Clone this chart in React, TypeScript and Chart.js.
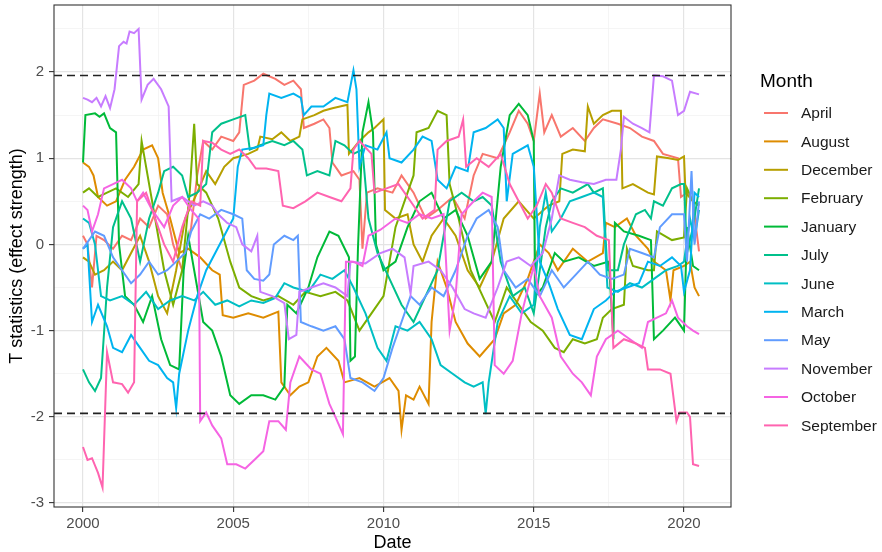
import { useEffect, useRef } from 'react';
import { Chart, registerables } from 'chart.js';

Chart.register(...registerables);

// ---------- data ----------
const monthNames = ['April', 'August', 'December', 'February', 'January', 'July', 'June', 'March', 'May', 'November', 'October', 'September'];
const monthColors = ['#F8766D', '#DE8C00', '#B79F00', '#7CAE00', '#00BA38', '#00C08B', '#00BFC4', '#00B4F0', '#619CFF', '#C77CFF', '#F564E3', '#FF64B0'];

const xMajorTicks = [2000, 2005, 2010, 2015, 2020];
const xMinorTicks = [2002.5, 2007.5, 2012.5, 2017.5];
const yMajorTicks = [-3, -2, -1, 0, 1, 2];
const yMinorTicks = [-2.5, -1.5, -0.5, 0.5, 1.5, 2.5];
const criticalValue = 1.96;
const xRange = [1999.035, 2021.564];
const yRange = [-3.046, 2.777];

const april: number[][] = [[2000.0,0.1],[2000.15,0.0],[2000.3,-0.5],[2000.45,0.1],[2000.7,0.05],[2001.0,-0.05],[2001.3,0.1],[2001.6,0.05],[2001.9,0.3],[2002.2,0.2],[2002.5,0.45],[2002.8,0.35],[2003.0,0.0],[2003.3,-0.3],[2003.6,0.2],[2003.8,0.8],[2004.0,1.2],[2004.3,1.1],[2004.6,1.25],[2005.0,1.2],[2005.2,1.3],[2005.35,1.85],[2005.7,1.9],[2006.0,1.98],[2006.4,1.92],[2006.7,1.85],[2007.0,1.9],[2007.25,1.8],[2007.35,1.35],[2007.7,1.4],[2008.0,1.45],[2008.2,1.35],[2008.3,0.95],[2008.6,0.8],[2009.0,0.85],[2009.2,0.75],[2009.3,-0.05],[2009.45,0.6],[2009.8,0.65],[2010.3,0.6],[2010.6,0.8],[2011.0,0.6],[2011.4,0.3],[2011.8,0.4],[2012.3,0.55],[2012.7,0.3],[2013.0,0.8],[2013.3,1.05],[2013.8,1.0],[2014.2,1.3],[2014.5,1.55],[2014.8,1.4],[2015.0,1.2],[2015.2,1.75],[2015.35,1.3],[2015.6,1.5],[2015.9,1.25],[2016.3,1.35],[2016.7,1.2],[2017.0,1.35],[2017.3,1.45],[2017.8,1.4],[2018.2,1.35],[2018.6,1.25],[2019.0,1.2],[2019.3,1.05],[2019.8,1.0],[2019.9,0.55],[2020.1,0.6],[2020.3,0.5],[2020.4,0.2],[2020.5,-0.08]];

const august: number[][] = [[2000.0,0.95],[2000.2,0.9],[2000.35,0.8],[2000.5,0.55],[2000.8,0.45],[2001.1,0.5],[2001.4,0.75],[2001.7,0.9],[2002.0,1.1],[2002.3,1.15],[2002.5,1.0],[2002.65,0.6],[2002.9,0.3],[2003.2,-0.1],[2003.5,-0.05],[2003.9,-0.15],[2004.3,-0.3],[2004.55,-0.35],[2004.65,-0.82],[2005.0,-0.85],[2005.5,-0.8],[2006.0,-0.85],[2006.5,-0.78],[2006.6,-1.6],[2006.9,-1.75],[2007.2,-1.65],[2007.5,-1.6],[2007.8,-1.3],[2008.1,-1.2],[2008.5,-1.35],[2008.7,-1.6],[2009.2,-1.55],[2009.7,-1.65],[2010.2,-1.55],[2010.5,-1.7],[2010.6,-2.15],[2010.75,-1.75],[2011.0,-1.8],[2011.2,-1.65],[2011.5,-1.85],[2011.6,-0.9],[2011.8,-0.2],[2012.1,-0.5],[2012.4,-0.9],[2012.8,-1.15],[2013.2,-1.3],[2013.7,-1.1],[2014.0,-0.8],[2014.4,-0.7],[2014.8,-0.4],[2015.2,0.0],[2015.5,-0.1],[2015.8,-0.3],[2016.3,-0.05],[2016.8,-0.2],[2017.3,-0.1],[2017.4,0.25],[2017.7,0.2],[2018.1,0.3],[2018.4,0.1],[2018.8,-0.05],[2019.0,-0.2],[2019.4,-0.3],[2019.55,-0.65],[2019.65,-0.3],[2020.0,-0.25],[2020.2,-0.2],[2020.35,-0.5],[2020.5,-0.6]];

const december: number[][] = [[2000.0,-0.15],[2000.2,-0.2],[2000.4,-0.35],[2000.7,-0.3],[2001.0,-0.2],[2001.3,-0.3],[2001.6,-0.1],[2001.9,0.1],[2002.2,-0.2],[2002.5,-0.6],[2002.8,-0.8],[2003.1,-0.3],[2003.4,0.3],[2003.8,0.6],[2004.1,0.85],[2004.4,0.7],[2004.7,0.9],[2005.0,1.0],[2005.5,1.05],[2005.8,1.1],[2005.9,1.25],[2006.3,1.22],[2006.6,1.3],[2006.9,1.2],[2007.2,1.25],[2007.3,1.45],[2007.7,1.5],[2008.0,1.55],[2008.3,1.58],[2008.8,1.62],[2008.85,1.05],[2009.2,1.2],[2009.5,1.3],[2009.7,1.35],[2010.0,1.45],[2010.05,0.4],[2010.4,0.3],[2010.8,0.35],[2011.0,0.0],[2011.3,-0.2],[2011.6,0.1],[2012.0,0.3],[2012.4,0.1],[2012.8,-0.3],[2013.2,-0.5],[2013.6,-0.2],[2014.0,0.3],[2014.5,0.5],[2015.0,0.3],[2015.5,0.45],[2015.85,0.5],[2015.95,1.05],[2016.3,1.1],[2016.7,1.08],[2016.8,1.6],[2017.0,1.4],[2017.3,1.5],[2017.6,1.55],[2017.9,1.55],[2017.95,0.65],[2018.3,0.7],[2018.8,0.6],[2019.0,0.58],[2019.1,1.02],[2019.5,1.0],[2019.8,0.98],[2020.0,1.02],[2020.05,0.6],[2020.3,0.5],[2020.5,0.45]];

const february: number[][] = [[2000.0,0.6],[2000.2,0.65],[2000.5,0.55],[2000.8,0.6],[2001.1,0.65],[2001.5,0.55],[2001.85,0.7],[2001.95,1.2],[2002.1,0.9],[2002.4,0.3],[2002.7,-0.3],[2003.0,-0.7],[2003.3,-0.3],[2003.55,0.6],[2003.7,1.4],[2003.8,0.7],[2004.1,0.6],[2004.5,0.3],[2004.9,-0.2],[2005.2,-0.5],[2005.6,-0.6],[2006.0,-0.65],[2006.5,-0.6],[2007.0,-0.7],[2007.4,-0.55],[2007.9,-0.6],[2008.4,-0.55],[2008.8,-0.65],[2009.2,-1.0],[2009.6,-0.8],[2010.0,-0.6],[2010.4,0.2],[2010.8,0.6],[2011.0,0.8],[2011.1,1.3],[2011.5,1.35],[2011.8,1.55],[2012.1,1.5],[2012.2,0.7],[2012.5,0.3],[2012.9,-0.3],[2013.3,-0.6],[2013.7,-0.9],[2014.1,-0.5],[2014.5,-0.7],[2014.9,-0.9],[2015.3,-1.0],[2015.7,-1.2],[2016.0,-1.25],[2016.3,-1.1],[2016.7,-1.15],[2017.1,-1.1],[2017.3,-0.85],[2017.6,-0.75],[2018.0,-0.7],[2018.1,-0.05],[2018.3,-0.25],[2018.8,-0.3],[2019.0,-0.3],[2019.1,0.15],[2019.6,0.05],[2020.0,0.08],[2020.1,0.65],[2020.3,0.5],[2020.5,0.45]];

const january: number[][] = [[2000.0,0.95],[2000.08,1.5],[2000.4,1.52],[2000.55,1.48],[2000.7,1.52],[2000.9,1.35],[2001.1,1.3],[2001.2,0.0],[2001.4,-0.6],[2001.7,-0.7],[2002.0,-0.9],[2002.3,-0.6],[2002.6,-1.1],[2002.9,-1.4],[2003.2,-1.45],[2003.35,-0.3],[2003.5,0.1],[2003.8,-0.5],[2004.0,-0.9],[2004.3,-1.0],[2004.6,-1.3],[2004.9,-1.75],[2005.2,-1.85],[2005.6,-1.75],[2006.0,-1.75],[2006.4,-1.8],[2006.7,-1.65],[2006.8,-0.7],[2007.1,-0.8],[2007.5,-0.5],[2007.8,-0.15],[2008.2,0.15],[2008.5,0.1],[2008.85,-0.15],[2008.9,-1.35],[2009.05,-1.3],[2009.15,-0.05],[2009.3,1.3],[2009.5,1.65],[2009.65,1.3],[2009.75,0.0],[2010.0,-0.3],[2010.4,-0.2],[2010.8,0.2],[2011.2,0.5],[2011.6,0.6],[2012.0,0.3],[2012.4,0.4],[2012.8,0.1],[2013.2,-0.4],[2013.6,-0.2],[2013.9,0.9],[2014.2,1.5],[2014.5,1.63],[2014.8,1.5],[2015.0,1.2],[2015.05,-0.6],[2015.3,-0.5],[2015.7,-0.1],[2016.0,-0.2],[2016.5,-0.15],[2017.0,-0.25],[2017.5,-0.2],[2017.65,-1.1],[2017.7,0.25],[2018.0,0.15],[2018.5,0.1],[2018.9,0.05],[2019.0,-1.1],[2019.3,-1.0],[2019.7,-0.85],[2020.0,-1.0],[2020.1,0.2],[2020.3,-0.25],[2020.5,-0.3]];

const july: number[][] = [[2000.0,-1.45],[2000.2,-1.6],[2000.4,-1.7],[2000.6,-1.55],[2000.8,-0.5],[2001.0,0.2],[2001.3,0.5],[2001.6,0.3],[2001.9,-0.2],[2002.2,0.3],[2002.5,0.6],[2002.7,0.85],[2003.0,0.9],[2003.3,0.8],[2003.5,0.55],[2003.8,0.6],[2004.1,0.7],[2004.3,1.3],[2004.6,1.4],[2005.0,1.45],[2005.4,1.5],[2005.55,1.1],[2005.9,1.15],[2006.3,1.2],[2006.7,1.15],[2007.0,1.2],[2007.3,1.1],[2007.45,0.8],[2007.8,0.85],[2008.2,0.8],[2008.4,1.2],[2008.7,1.15],[2009.0,1.05],[2009.3,1.1],[2009.5,0.3],[2009.8,-0.1],[2010.2,-0.4],[2010.6,-0.7],[2011.0,-0.9],[2011.4,-0.6],[2011.8,-0.3],[2012.2,0.5],[2012.6,0.6],[2013.0,0.5],[2013.3,0.55],[2013.6,0.45],[2013.9,-0.2],[2014.3,-0.6],[2014.7,-0.5],[2015.0,-0.8],[2015.4,0.2],[2015.6,0.5],[2015.9,0.65],[2016.3,0.6],[2016.8,0.7],[2017.0,0.6],[2017.3,0.65],[2017.45,-0.3],[2017.8,-0.3],[2018.0,0.0],[2018.4,0.35],[2018.7,0.4],[2018.9,0.3],[2019.0,0.5],[2019.3,0.45],[2019.6,0.65],[2019.9,0.7],[2020.0,0.7],[2020.1,-0.1],[2020.3,0.2],[2020.5,0.65]];

const june: number[][] = [[2000.0,0.3],[2000.2,0.25],[2000.4,0.0],[2000.6,-0.6],[2000.9,-0.65],[2001.3,-0.6],[2001.7,-0.7],[2002.1,-0.55],[2002.5,-0.75],[2002.9,-0.65],[2003.3,-0.6],[2003.7,-0.65],[2004.0,-0.55],[2004.4,-0.7],[2004.8,-0.65],[2005.2,-0.72],[2005.6,-0.65],[2006.0,-0.68],[2006.4,-0.62],[2006.7,-0.45],[2007.0,-0.5],[2007.5,-0.55],[2007.9,-0.35],[2008.3,-0.4],[2008.7,-0.3],[2009.0,-0.5],[2009.4,-0.8],[2009.8,-1.2],[2010.1,-1.35],[2010.4,-0.95],[2010.8,-1.0],[2011.2,-0.9],[2011.6,-1.1],[2011.9,-1.4],[2012.3,-1.5],[2012.7,-1.6],[2013.0,-1.65],[2013.3,-1.6],[2013.4,-1.97],[2013.5,-1.6],[2013.8,-0.9],[2014.2,-0.6],[2014.6,-0.8],[2015.0,-0.7],[2015.2,0.2],[2015.4,0.6],[2015.6,0.15],[2015.9,0.3],[2016.2,0.5],[2016.6,0.55],[2017.0,0.6],[2017.3,0.55],[2017.45,-0.5],[2017.8,-0.55],[2018.2,-0.45],[2018.6,-0.5],[2019.0,-0.4],[2019.4,-0.3],[2019.8,-0.25],[2020.0,-0.2],[2020.2,0.3],[2020.35,0.05],[2020.5,0.4]];

const march: number[][] = [[2000.0,-0.05],[2000.15,0.0],[2000.3,-0.9],[2000.5,-0.7],[2000.8,-0.95],[2001.0,-1.2],[2001.3,-1.25],[2001.6,-1.05],[2001.9,-1.2],[2002.2,-1.35],[2002.5,-1.4],[2002.8,-1.55],[2003.0,-1.6],[2003.1,-1.9],[2003.2,-1.5],[2003.5,-1.0],[2003.8,-0.6],[2004.1,-0.3],[2004.4,-0.1],[2004.7,0.1],[2005.0,0.3],[2005.15,0.9],[2005.3,1.1],[2005.7,1.12],[2006.0,1.15],[2006.1,1.5],[2006.2,1.75],[2006.6,1.7],[2007.0,1.75],[2007.25,1.7],[2007.35,1.5],[2007.6,1.6],[2008.0,1.6],[2008.4,1.7],[2008.8,1.65],[2009.0,2.02],[2009.1,1.8],[2009.2,0.9],[2009.4,1.15],[2009.8,1.1],[2010.1,1.3],[2010.2,1.0],[2010.6,0.95],[2011.0,1.1],[2011.3,1.25],[2011.6,1.2],[2011.8,0.75],[2012.1,0.65],[2012.4,0.9],[2012.8,0.85],[2013.0,1.3],[2013.4,1.35],[2013.8,1.45],[2014.0,1.35],[2014.1,0.5],[2014.3,1.05],[2014.8,1.15],[2015.0,0.9],[2015.2,-0.2],[2015.5,-0.45],[2015.8,-0.75],[2016.2,-1.05],[2016.6,-1.1],[2017.0,-0.75],[2017.4,-0.65],[2017.7,-0.55],[2018.1,-0.5],[2018.5,-0.45],[2018.8,-0.2],[2019.2,-0.25],[2019.6,-0.15],[2019.9,-0.25],[2020.0,-0.55],[2020.2,-0.3],[2020.35,0.6],[2020.5,0.55]];

const may: number[][] = [[2000.0,-0.05],[2000.2,0.05],[2000.4,0.15],[2000.7,0.1],[2001.0,-0.15],[2001.3,-0.3],[2001.6,-0.45],[2001.9,-0.35],[2002.2,-0.2],[2002.5,-0.35],[2002.8,-0.3],[2003.1,-0.2],[2003.4,-0.1],[2003.6,0.15],[2003.9,0.35],[2004.2,0.3],[2004.6,0.4],[2005.0,0.35],[2005.3,0.3],[2005.45,-0.3],[2005.7,-0.4],[2006.0,-0.42],[2006.2,-0.35],[2006.35,0.0],[2006.7,0.1],[2007.0,0.05],[2007.15,0.1],[2007.25,-0.9],[2007.6,-0.95],[2008.0,-1.0],[2008.4,-0.95],[2008.7,-1.1],[2008.9,-1.55],[2009.3,-1.6],[2009.7,-1.7],[2010.0,-1.55],[2010.3,-1.2],[2010.6,-0.9],[2010.9,-0.6],[2011.2,-0.7],[2011.6,-0.5],[2012.0,-0.6],[2012.4,-0.3],[2012.8,0.1],[2013.1,0.3],[2013.5,0.4],[2013.8,0.2],[2014.0,-0.3],[2014.4,-0.5],[2014.8,-0.4],[2015.2,-0.6],[2015.6,-0.3],[2016.0,-0.5],[2016.4,-0.35],[2016.8,-0.2],[2017.2,-0.35],[2017.6,-0.4],[2018.0,-0.35],[2018.2,-0.05],[2018.6,-0.1],[2019.0,-0.15],[2019.2,0.2],[2019.6,0.35],[2020.0,0.35],[2020.1,-0.2],[2020.25,0.85],[2020.35,0.0],[2020.5,0.5]];

const november: number[][] = [[2000.0,1.7],[2000.15,1.68],[2000.3,1.65],[2000.45,1.7],[2000.6,1.6],[2000.75,1.72],[2000.9,1.58],[2001.05,1.8],[2001.2,2.3],[2001.35,2.35],[2001.45,2.33],[2001.55,2.47],[2001.7,2.45],[2001.85,2.5],[2001.95,1.68],[2002.15,1.85],[2002.35,1.92],[2002.6,1.8],[2002.85,1.6],[2002.95,0.5],[2003.3,0.55],[2003.7,0.45],[2004.0,0.5],[2004.3,0.45],[2004.5,0.35],[2004.8,0.25],[2005.1,0.2],[2005.3,0.0],[2005.6,-0.08],[2005.8,0.1],[2005.9,-0.55],[2006.3,-0.6],[2006.7,-0.68],[2006.85,-1.1],[2007.1,-1.05],[2007.2,-0.55],[2007.6,-0.5],[2008.0,-0.45],[2008.4,-0.5],[2008.8,-0.6],[2008.9,-0.2],[2009.4,-0.22],[2009.9,-0.1],[2010.3,-0.05],[2010.7,-0.15],[2010.9,-0.57],[2011.0,-0.25],[2011.5,-0.2],[2011.9,-0.3],[2012.3,-0.5],[2012.7,-0.75],[2013.0,-0.8],[2013.4,-0.85],[2013.8,-0.5],[2014.1,-0.2],[2014.5,-0.15],[2014.9,-0.25],[2015.3,-0.1],[2015.6,0.3],[2015.85,0.8],[2016.2,0.75],[2016.6,0.72],[2017.0,0.7],[2017.4,0.75],[2017.75,0.75],[2017.9,1.1],[2018.0,1.48],[2018.3,1.4],[2018.6,1.35],[2018.85,1.3],[2019.0,1.96],[2019.3,1.95],[2019.6,1.9],[2019.8,1.5],[2020.0,1.55],[2020.2,1.77],[2020.5,1.74]];

const october: number[][] = [[2000.0,0.45],[2000.15,0.4],[2000.3,0.15],[2000.5,0.35],[2000.7,0.65],[2001.0,0.7],[2001.3,0.75],[2001.6,0.65],[2001.8,0.5],[2002.0,0.6],[2002.3,0.4],[2002.7,0.2],[2003.0,0.45],[2003.3,0.55],[2003.6,0.4],[2003.85,0.3],[2003.9,-2.05],[2004.1,-1.95],[2004.3,-2.1],[2004.6,-2.25],[2004.8,-2.55],[2005.1,-2.55],[2005.4,-2.6],[2005.7,-2.5],[2006.0,-2.4],[2006.2,-2.05],[2006.5,-2.05],[2006.75,-2.15],[2006.9,-1.6],[2007.2,-1.3],[2007.6,-1.45],[2007.9,-1.5],[2008.2,-1.85],[2008.4,-2.0],[2008.65,-2.2],[2008.75,-0.2],[2009.0,-0.2],[2009.3,-0.25],[2009.5,0.1],[2009.9,0.17],[2010.4,0.3],[2010.8,0.25],[2011.2,0.35],[2011.6,0.3],[2012.0,0.35],[2012.2,-1.0],[2012.4,-0.6],[2012.6,0.35],[2013.0,0.5],[2013.3,0.6],[2013.6,0.55],[2013.7,-1.4],[2014.0,-1.5],[2014.3,-1.35],[2014.6,-0.8],[2015.0,-0.25],[2015.2,-0.6],[2015.6,-0.85],[2015.9,-1.3],[2016.3,-1.5],[2016.6,-1.6],[2016.9,-1.75],[2017.1,-1.3],[2017.4,-1.1],[2017.8,-1.0],[2018.2,-1.1],[2018.6,-1.2],[2018.8,-0.9],[2019.1,-0.85],[2019.4,-0.8],[2019.6,-0.65],[2019.8,-0.85],[2020.1,-0.95],[2020.3,-1.0],[2020.5,-1.04]];

const september: number[][] = [[2000.0,-2.35],[2000.15,-2.5],[2000.3,-2.48],[2000.5,-2.65],[2000.65,-2.82],[2000.8,-1.25],[2001.0,-1.6],[2001.3,-1.62],[2001.5,-1.72],[2001.7,-1.6],[2001.8,0.5],[2002.1,0.6],[2002.4,0.3],[2002.7,0.0],[2003.0,-0.2],[2003.3,0.2],[2003.6,0.5],[2003.9,0.45],[2004.0,1.2],[2004.3,1.18],[2004.6,1.1],[2004.9,1.05],[2005.2,1.1],[2005.5,1.0],[2005.75,0.88],[2006.1,0.88],[2006.5,0.85],[2006.65,0.45],[2007.0,0.42],[2007.4,0.5],[2007.8,0.6],[2008.2,0.55],[2008.6,0.5],[2008.9,0.65],[2009.0,1.1],[2009.2,1.2],[2009.6,1.05],[2009.7,0.6],[2010.1,0.65],[2010.5,0.7],[2010.9,0.5],[2011.3,0.3],[2011.7,0.4],[2011.8,1.1],[2012.1,1.2],[2012.5,1.25],[2012.65,1.45],[2012.75,0.9],[2013.1,1.0],[2013.5,0.9],[2013.9,1.05],[2014.2,0.7],[2014.5,0.5],[2014.8,0.3],[2015.1,0.45],[2015.4,0.7],[2015.6,0.6],[2015.9,0.3],[2016.3,0.25],[2016.7,0.2],[2017.1,0.1],[2017.5,0.05],[2017.65,-1.2],[2018.0,-1.1],[2018.4,-1.15],[2018.7,-1.2],[2018.8,-1.45],[2019.2,-1.45],[2019.55,-1.5],[2019.75,-2.05],[2019.85,-1.95],[2020.1,-1.95],[2020.2,-2.0],[2020.3,-2.55],[2020.5,-2.57]];

const monthSeries = [april, august, december, february, january, july, june, march, may, november, october, september];

const FONT = '"Liberation Sans", Arial, Helvetica, sans-serif';

export default function App() {
  const ref = useRef<HTMLCanvasElement>(null);

  useEffect(() => {
    document.body.style.margin = '0';
    const canvas = ref.current;
    if (!canvas) return;

    const datasets: any[] = [];
    [criticalValue, -criticalValue].forEach((v) => {
      datasets.push({
        label: 'crit' + v,
        data: [{ x: xRange[0], y: v }, { x: xRange[1], y: v }],
        borderColor: '#222222',
        borderWidth: 1.6,
        borderDash: [8, 5],
        pointRadius: 0,
        tension: 0,
      });
    });
    for (let i = monthSeries.length - 1; i >= 0; i--) {
      datasets.push({
        label: monthNames[i],
        data: monthSeries[i].map(([x, y]) => ({ x, y })),
        borderColor: monthColors[i],
        borderWidth: 2,
        pointRadius: 0,
        tension: 0,
        fill: false,
      });
    }

    const isMajor = (arr: number[], v: number) => arr.some((m) => Math.abs(m - v) < 1e-9);

    const panelAndLegend = {
      id: 'panelAndLegend',
      afterDraw(chart: any) {
        const { ctx, chartArea } = chart;
        ctx.save();
        ctx.strokeStyle = '#333333';
        ctx.lineWidth = 1.1;
        ctx.strokeRect(chartArea.left, chartArea.top, chartArea.right - chartArea.left, chartArea.bottom - chartArea.top);

        // legend
        ctx.fillStyle = '#000000';
        ctx.font = `19px ${FONT}`;
        ctx.textAlign = 'left';
        ctx.textBaseline = 'middle';
        ctx.fillText('Month', 760, 82);
        ctx.font = `15.5px ${FONT}`;
        monthNames.forEach((name, i) => {
          const y = 113 + i * 28.4;
          ctx.strokeStyle = monthColors[i];
          ctx.lineWidth = 2;
          ctx.beginPath();
          ctx.moveTo(764, y);
          ctx.lineTo(788, y);
          ctx.stroke();
          ctx.fillStyle = '#1A1A1A';
          ctx.fillText(name, 801, y + 1);
        });
        ctx.restore();
      },
    };

    const zeroPad = (s: any) => {
      s.paddingTop = 0;
      s.paddingBottom = 0;
      s.paddingLeft = 0;
      s.paddingRight = 0;
    };

    const chart = new Chart(canvas, {
      type: 'line',
      data: { datasets },
      options: {
        responsive: false,
        animation: false,
        devicePixelRatio: 1,
        layout: { padding: { top: 5, right: 151, left: 0, bottom: 0 } },
        plugins: { legend: { display: false }, tooltip: { enabled: false } },
        scales: {
          x: {
            type: 'linear',
            min: xRange[0],
            max: xRange[1],
            afterFit: (s: any) => { s.height = 45; zeroPad(s); },
            afterBuildTicks: (s: any) => {
              s.ticks = [...xMajorTicks, ...xMinorTicks].sort((a, b) => a - b).map((v) => ({ value: v }));
            },
            ticks: {
              autoSkip: false,
              maxRotation: 0,
              padding: 3,
              color: '#4D4D4D',
              font: { family: FONT, size: 15 },
              callback: (v: any) => (isMajor(xMajorTicks, Number(v)) ? String(v) : ''),
            },
            grid: {
              drawTicks: true,
              tickLength: 5,
              color: (c: any) => (c.tick && isMajor(xMajorTicks, c.tick.value) ? '#E4E4E4' : '#F1F1F1'),
              lineWidth: (c: any) => (c.tick && isMajor(xMajorTicks, c.tick.value) ? 1.2 : 0.7),
              tickColor: (c: any) => (c.tick && isMajor(xMajorTicks, c.tick.value) ? '#333333' : 'rgba(0,0,0,0)'),
              tickWidth: 1.1,
            },
            border: { display: false },
            title: {
              display: true,
              text: 'Date',
              color: '#000000',
              font: { family: FONT, size: 18, lineHeight: 1.0 },
              padding: { top: 0, bottom: 0 },
            },
          },
          y: {
            type: 'linear',
            min: yRange[0],
            max: yRange[1],
            afterFit: (s: any) => { s.width = 54; zeroPad(s); },
            afterBuildTicks: (s: any) => {
              s.ticks = [...yMajorTicks, ...yMinorTicks].sort((a, b) => a - b).map((v) => ({ value: v }));
            },
            ticks: {
              autoSkip: false,
              padding: 5,
              color: '#4D4D4D',
              font: { family: FONT, size: 15 },
              callback: (v: any) => (isMajor(yMajorTicks, Number(v)) ? String(v) : ''),
            },
            grid: {
              drawTicks: true,
              tickLength: 5,
              color: (c: any) => (c.tick && isMajor(yMajorTicks, c.tick.value) ? '#E4E4E4' : '#F1F1F1'),
              lineWidth: (c: any) => (c.tick && isMajor(yMajorTicks, c.tick.value) ? 1.2 : 0.7),
              tickColor: (c: any) => (c.tick && isMajor(yMajorTicks, c.tick.value) ? '#333333' : 'rgba(0,0,0,0)'),
              tickWidth: 1.1,
            },
            border: { display: false },
            title: {
              display: true,
              text: 'T statistics (effect strength)',
              color: '#000000',
              font: { family: FONT, size: 18 },
              padding: { top: 6, bottom: 0 },
            },
          },
        },
      },
      plugins: [panelAndLegend],
    });

    return () => chart.destroy();
  }, []);

  return (
    <div style={{ width: 882, height: 552, background: '#ffffff' }}>
      <canvas ref={ref} width={882} height={552} style={{ display: 'block' }} />
    </div>
  );
}
